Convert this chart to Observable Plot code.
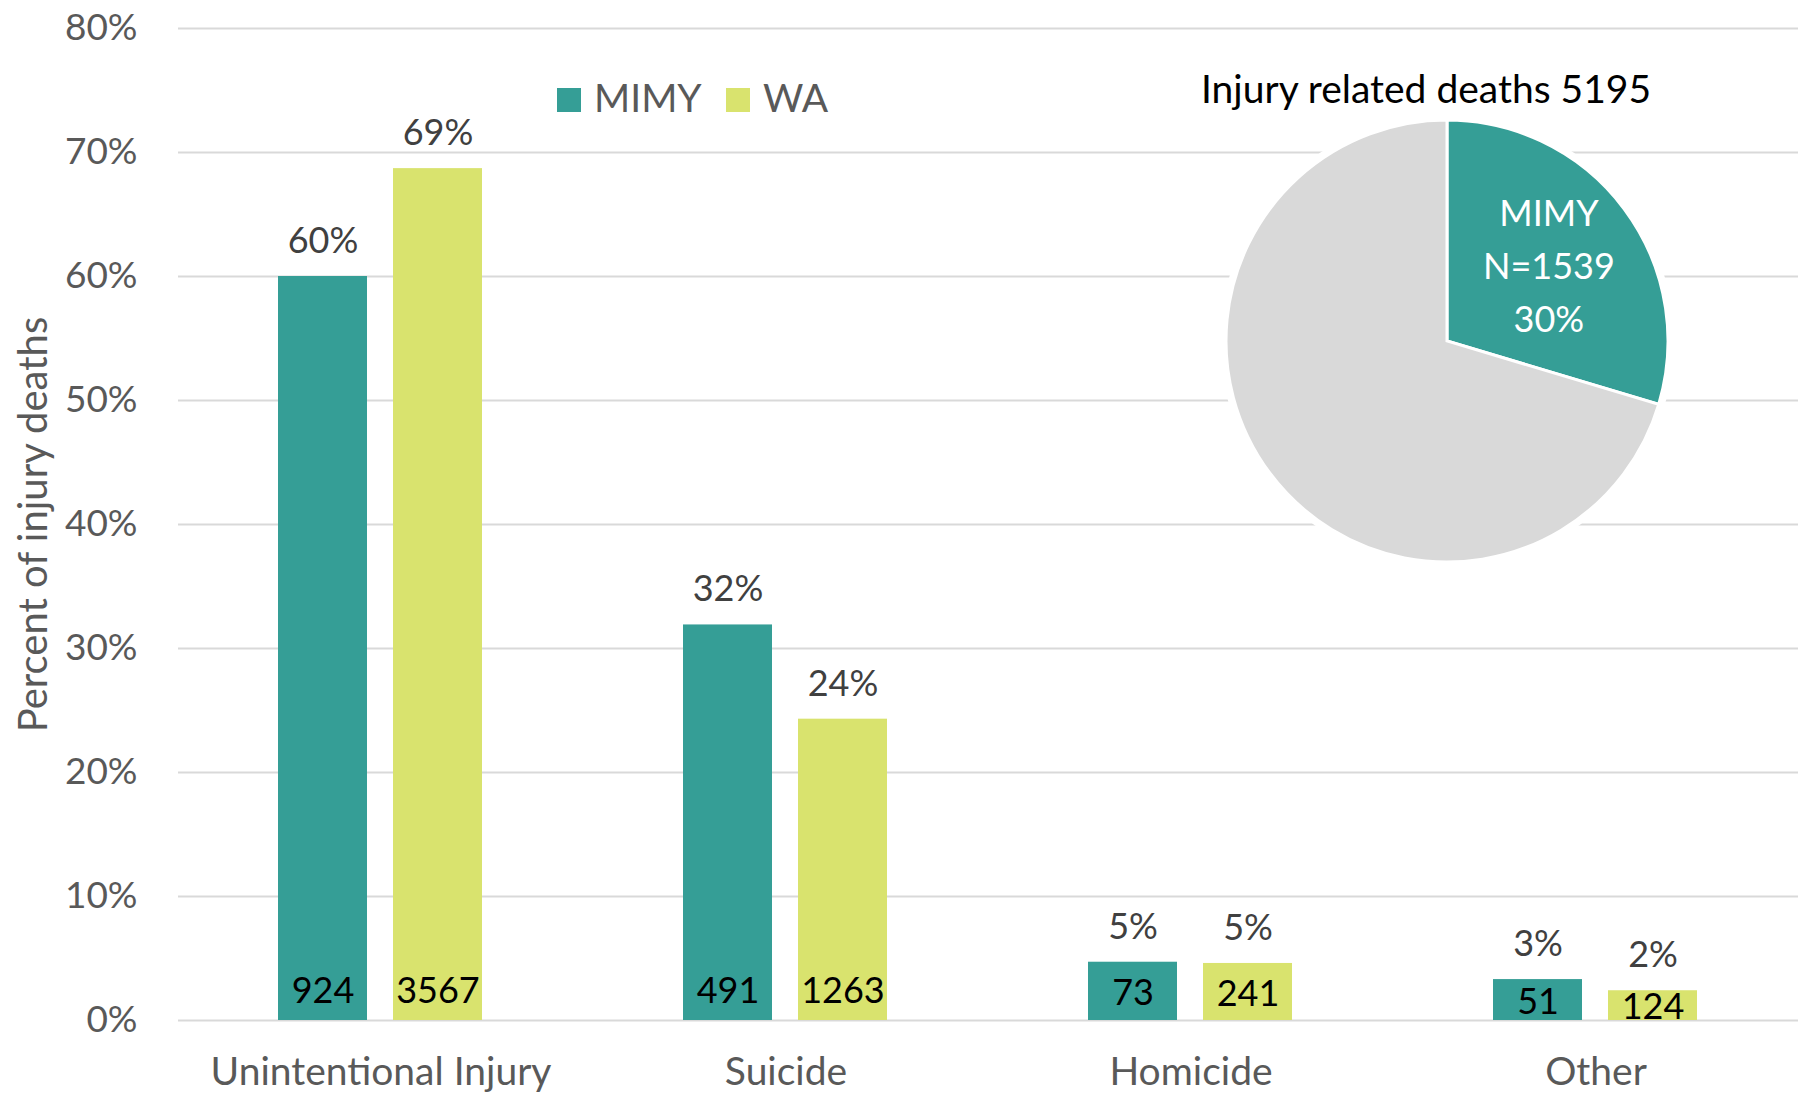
<!DOCTYPE html>
<html><head><meta charset="utf-8">
<script src="https://cdn.jsdelivr.net/npm/d3@7"></script>
<script src="https://cdn.jsdelivr.net/npm/@observablehq/plot@0.6"></script>
<style>body{margin:0;background:#fff;} #chart{position:relative;width:1805px;height:1096px;}</style>
</head><body><div id="chart"></div>
<script>
// ---- data ----
const categories = ["Unintentional Injury", "Suicide", "Homicide", "Other"];
const series = ["MIMY", "WA"];
const mimyPct = [60.0, 31.9, 4.7, 3.3];
const waPct = [68.7, 24.3, 4.6, 2.4];
const mimyCount = [924, 491, 73, 51];
const waCount = [3567, 1263, 241, 124];
const yTicks = [0, 10, 20, 30, 40, 50, 60, 70, 80];
const colors = ["#359E96", "#D9E36E"];
const pieTitle = "Injury related deaths 5195";
const pieNames = ["MIMY", "Rest of WA"];
const pieValues = [1539, 3656];
const pieColors = ["#359E96", "#D9D9D9"];
const pieLabelLines = ["MIMY", "N=1539", "30%"];

const rows = [];
categories.forEach((c, i) => {
  rows.push({category: c, series: "MIMY", pct: mimyPct[i], count: mimyCount[i]});
  rows.push({category: c, series: "WA", pct: waPct[i], count: waCount[i]});
});

const FONT = "Lato, 'Open Sans', sans-serif";

const plot = Plot.plot({
  width: 1805, height: 1096,
  marginLeft: 177, marginRight: 6, marginTop: 28, marginBottom: 76,
  style: {fontFamily: FONT, fontSize: "36px", color: "#595959", background: "#fff"},
  fx: {domain: categories, padding: 0, label: null},
  x: {domain: series, paddingInner: 0.224, paddingOuter: 0.861, axis: null},
  y: {domain: [0, 80], label: null},
  color: {domain: series, range: colors},
  marks: [
    Plot.gridY(yTicks, {stroke: "#D9D9D9", strokeOpacity: 1, strokeWidth: 2}),
    Plot.axisY(yTicks, {tickSize: 0, tickPadding: 41, tickFormat: d => d + "%", label: null, fontSize: 37}),
    Plot.axisY({label: "Percent of injury deaths", labelAnchor: "center", labelArrow: "none", labelOffset: 160,
      fontSize: 40, ticks: [], tickSize: 0}),
    Plot.axisFx({anchor: "bottom", tickSize: 0, tickPadding: 37, label: null, fontSize: 39}),
    Plot.barY(rows, {fx: "category", x: "series", y: "pct", fill: "series"}),
    Plot.text(rows, {fx: "category", x: "series", y: "pct", text: d => Math.round(d.pct) + "%",
      dy: -35, fill: "#404040", fontSize: 36}),
    Plot.text(rows, {fx: "category", x: "series", y: d => Math.min(d.pct / 2, 2.5), text: d => String(d.count),
      dy: 2, fill: "#000", fontSize: 36})
  ]
});
document.getElementById("chart").appendChild(plot);

// ---- overlays: legend + pie inset ----
const svg = d3.select(plot);

// legend
const leg = svg.append("g").attr("text-anchor", "start");
const legX = [557, 726];
series.forEach((s, i) => {
  leg.append("rect").attr("x", legX[i]).attr("y", 88).attr("width", 24).attr("height", 24).attr("fill", colors[i]);
  leg.append("text").attr("x", legX[i] + 37).attr("y", 112).attr("text-anchor", "start")
    .attr("font-family", FONT).attr("font-size", 39).attr("fill", "#595959").text(s);
});

// pie
const cx = 1447, cy = 341, R = 221;
const g = svg.append("g").attr("transform", `translate(${cx},${cy})`);
g.append("circle").attr("r", R + 6).attr("fill", "#fff");
const arcs = d3.pie().sort(null).value(d => d)(pieValues);
const arc = d3.arc().innerRadius(0).outerRadius(R);
g.selectAll("path.slice").data(arcs).join("path")
  .attr("d", arc).attr("fill", (d, i) => pieColors[i]).attr("stroke", "#fff").attr("stroke-width", 3)
  .append("title").text((d, i) => pieNames[i] + ": " + pieValues[i]);
const labelArc = d3.arc().innerRadius(0).outerRadius(R * 1.15);
const [lx, ly] = labelArc.centroid(arcs[0]);
const lt = g.append("text").attr("x", lx).attr("y", ly).attr("text-anchor", "middle")
  .attr("font-family", FONT).attr("font-size", 36).attr("fill", "#fff");
pieLabelLines.forEach((t, i) => {
  lt.append("tspan").attr("x", lx).attr("y", ly + (i - 1) * 53 + 14).text(t);
});
svg.append("text").attr("x", 1426).attr("y", 103).attr("text-anchor", "middle")
  .attr("font-family", FONT).attr("font-size", 39).attr("fill", "#000").text(pieTitle);
</script>
</body></html>
